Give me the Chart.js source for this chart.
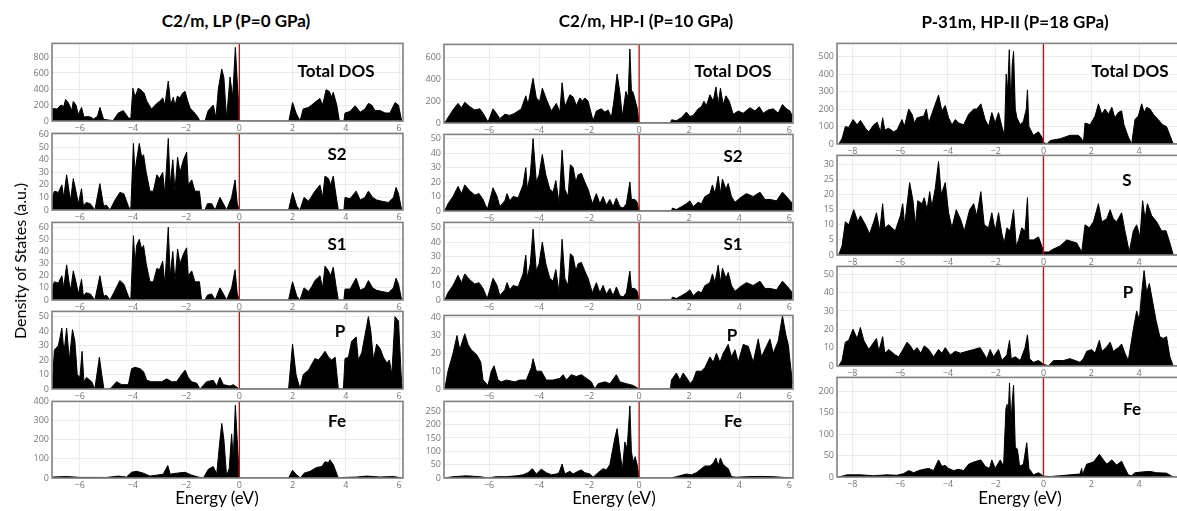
<!DOCTYPE html>
<html><head><meta charset="utf-8">
<script src="https://cdn.jsdelivr.net/npm/chart.js@4.4.1/dist/chart.umd.min.js"></script>
<style>
html,body{margin:0;padding:0;background:#fff}
body{width:1177px;height:511px;overflow:hidden;position:relative;font-family:Lato,"Open Sans",sans-serif}
.t{position:absolute;transform:translate(-50%,-50%);white-space:nowrap;color:#000;line-height:1}
</style></head><body>
<script>
// ---------- DATA: [energy (eV), DOS (a.u.)] ----------
const c1Total = [[-7.04,150],[-7.0,155],[-6.85,150],[-6.7,200],[-6.6,180],[-6.53,270],[-6.43,230],[-6.3,130],[-6.24,245],[-6.14,200],[-6.05,80],[-5.93,170],[-5.84,50],[-5.68,55],[-5.55,45],[-5.5,20],[-5.33,60],[-5.24,170],[-5.1,20],[-4.86,10],[-4.74,5],[-4.55,100],[-4.36,130],[-4.17,40],[-4.08,30],[-4.0,410],[-3.92,300],[-3.8,410],[-3.67,380],[-3.58,350],[-3.48,250],[-3.3,150],[-3.1,220],[-2.98,250],[-2.88,290],[-2.8,200],[-2.67,500],[-2.58,200],[-2.48,300],[-2.42,190],[-2.33,310],[-2.23,290],[-2.13,350],[-2.04,370],[-1.95,260],[-1.85,160],[-1.73,120],[-1.58,60],[-1.48,0],[-1.29,0],[-1.17,130],[-0.98,200],[-0.88,40],[-0.79,400],[-0.66,650],[-0.58,540],[-0.48,30],[-0.35,550],[-0.25,300],[-0.15,920],[-0.08,500],[-0.02,200],[0,0],[1.86,0],[2.0,230],[2.13,100],[2.28,0],[2.4,150],[2.6,170],[2.72,200],[2.9,250],[3.03,280],[3.13,200],[3.26,390],[3.38,370],[3.47,300],[3.53,360],[3.66,200],[3.76,0],[3.93,0],[3.97,100],[4.16,120],[4.35,190],[4.54,110],[4.72,150],[4.85,220],[4.97,200],[5.1,130],[5.29,130],[5.48,100],[5.66,100],[5.85,230],[5.98,200],[6.1,0]];
const c1S2 = [[-7.04,0],[-7.0,12],[-6.95,15],[-6.8,14],[-6.67,20],[-6.6,10],[-6.49,28],[-6.4,15],[-6.34,8],[-6.24,25],[-6.14,15],[-6.05,5],[-5.93,17],[-5.86,3],[-5.76,6],[-5.6,5],[-5.43,0],[-5.24,21],[-5.1,3],[-5.0,4],[-4.86,0],[-4.67,8],[-4.49,14],[-4.34,13],[-4.17,3],[-4.08,0],[-3.98,53],[-3.92,30],[-3.86,40],[-3.76,53],[-3.67,42],[-3.6,44],[-3.5,30],[-3.36,15],[-3.23,15],[-3.1,28],[-3.0,25],[-2.88,30],[-2.8,13],[-2.67,57],[-2.6,20],[-2.5,40],[-2.42,15],[-2.32,42],[-2.23,30],[-2.1,40],[-1.98,46],[-1.92,20],[-1.79,24],[-1.67,15],[-1.5,15],[-1.42,0],[-1.29,0],[-1.2,5],[-1.04,5],[-0.91,0],[-0.73,10],[-0.6,5],[-0.48,0],[-0.29,10],[-0.16,24],[-0.08,5],[0,0],[1.85,0],[2.0,14],[2.16,3],[2.28,0],[2.43,10],[2.6,7],[2.72,11],[2.84,15],[3.03,20],[3.13,10],[3.22,27],[3.35,25],[3.43,20],[3.53,27],[3.63,12],[3.72,0],[3.93,0],[3.97,10],[4.16,9],[4.39,15],[4.54,8],[4.72,10],[4.85,15],[5.01,10],[5.16,8],[5.35,7],[5.6,6],[5.79,10],[5.89,18],[5.98,13],[6.1,0]];
const c1S1 = [[-7.04,0],[-7.0,12],[-6.95,15],[-6.8,14],[-6.67,20],[-6.6,10],[-6.49,29],[-6.4,15],[-6.34,8],[-6.24,24],[-6.14,15],[-6.05,5],[-5.93,17],[-5.86,3],[-5.76,6],[-5.6,5],[-5.43,0],[-5.24,20],[-5.1,3],[-5.0,4],[-4.86,0],[-4.67,8],[-4.49,16],[-4.34,13],[-4.17,3],[-4.08,0],[-3.98,53],[-3.92,30],[-3.86,45],[-3.76,50],[-3.67,42],[-3.6,45],[-3.5,30],[-3.36,15],[-3.23,15],[-3.1,26],[-3.0,25],[-2.88,32],[-2.8,13],[-2.67,60],[-2.6,20],[-2.5,40],[-2.42,15],[-2.32,42],[-2.23,30],[-2.1,38],[-1.98,43],[-1.92,20],[-1.79,24],[-1.67,15],[-1.5,15],[-1.42,0],[-1.29,0],[-1.2,4],[-1.04,5],[-0.91,0],[-0.73,10],[-0.6,5],[-0.48,0],[-0.29,10],[-0.16,25],[-0.08,5],[0,0],[1.85,0],[2.0,15],[2.16,3],[2.28,0],[2.43,10],[2.6,7],[2.72,11],[2.84,16],[3.03,20],[3.13,10],[3.22,28],[3.35,24],[3.43,20],[3.53,27],[3.63,12],[3.72,0],[3.93,0],[3.97,9],[4.16,9],[4.39,18],[4.54,8],[4.72,10],[4.85,16],[5.01,10],[5.16,8],[5.35,7],[5.6,6],[5.79,10],[5.89,18],[5.98,13],[6.1,0]];
const c1P = [[-7.04,0],[-6.95,27],[-6.8,30],[-6.67,42],[-6.59,25],[-6.49,42],[-6.39,20],[-6.27,41],[-6.18,33],[-6.09,10],[-5.99,8],[-5.91,26],[-5.84,5],[-5.74,8],[-5.55,5],[-5.43,0],[-5.26,22],[-5.17,10],[-5.09,0],[-4.86,0],[-4.61,5],[-4.42,3],[-4.17,3],[-4.05,14],[-3.92,15],[-3.73,14],[-3.6,12],[-3.48,6],[-3.3,5],[-3.1,5],[-2.92,5],[-2.73,7],[-2.54,5],[-2.36,5],[-2.17,10],[-2.04,13],[-1.92,8],[-1.79,5],[-1.6,4],[-1.48,0],[-1.23,5],[-0.98,6],[-0.85,2],[-0.73,8],[-0.6,3],[-0.35,2],[-0.23,3],[0,0],[1.85,0],[2.0,31],[2.13,10],[2.28,0],[2.4,10],[2.6,13],[2.84,21],[2.97,20],[3.1,23],[3.22,26],[3.35,22],[3.47,20],[3.6,22],[3.72,0],[3.91,0],[3.97,21],[4.1,22],[4.22,33],[4.39,36],[4.47,20],[4.6,25],[4.72,37],[4.85,50],[4.94,40],[5.04,20],[5.16,31],[5.29,28],[5.41,22],[5.54,18],[5.64,20],[5.73,10],[5.85,50],[5.98,47],[6.08,10],[6.12,0]];
const c1Fe = [[-7.04,0],[-7.0,5],[-6.49,8],[-5.99,3],[-5.36,3],[-4.99,3],[-4.55,10],[-4.24,5],[-4.05,30],[-3.86,35],[-3.6,25],[-3.36,10],[-3.1,15],[-2.86,20],[-2.69,65],[-2.6,20],[-2.36,25],[-2.04,30],[-1.79,15],[-1.54,5],[-1.35,0],[-1.17,45],[-0.98,60],[-0.85,20],[-0.75,170],[-0.66,285],[-0.58,200],[-0.48,10],[-0.38,50],[-0.29,230],[-0.23,100],[-0.15,380],[-0.08,200],[0,0],[1.85,0],[2.0,40],[2.16,15],[2.3,0],[2.43,25],[2.66,35],[2.9,55],[3.1,60],[3.22,85],[3.35,80],[3.4,95],[3.53,70],[3.72,0],[3.97,3],[4.41,5],[4.79,10],[5.29,5],[5.79,8],[6.1,0]];

const c2Total = [[-7.77,0],[-7.64,50],[-7.44,120],[-7.24,180],[-7.1,140],[-6.97,190],[-6.77,150],[-6.57,120],[-6.37,130],[-6.24,90],[-6.04,10],[-5.84,130],[-5.71,90],[-5.57,40],[-5.37,80],[-5.17,70],[-4.97,90],[-4.71,130],[-4.53,250],[-4.44,170],[-4.31,330],[-4.24,410],[-4.11,230],[-3.97,200],[-3.87,320],[-3.71,220],[-3.51,110],[-3.31,180],[-3.17,100],[-3.08,370],[-2.97,150],[-2.77,260],[-2.64,240],[-2.51,160],[-2.37,230],[-2.27,200],[-2.17,230],[-2.04,200],[-1.84,20],[-1.71,110],[-1.51,130],[-1.37,100],[-1.24,120],[-1.11,50],[-1.01,200],[-0.88,450],[-0.77,280],[-0.67,60],[-0.53,290],[-0.44,230],[-0.37,680],[-0.31,300],[-0.24,280],[-0.16,210],[-0.08,140],[0,0],[1.25,0],[1.3,30],[1.49,20],[1.69,50],[1.89,100],[2.03,60],[2.16,70],[2.36,130],[2.49,150],[2.59,200],[2.69,160],[2.83,260],[2.96,200],[3.07,330],[3.16,170],[3.25,320],[3.36,170],[3.47,250],[3.6,200],[3.76,80],[3.96,110],[4.16,90],[4.43,140],[4.63,110],[4.8,150],[4.96,90],[5.16,120],[5.36,130],[5.56,90],[5.73,170],[5.89,130],[6.03,110],[6.13,60]];
const c2S2 = [[-7.77,0],[-7.64,5],[-7.44,10],[-7.24,17],[-7.1,12],[-6.97,18],[-6.77,14],[-6.57,11],[-6.4,12],[-6.24,8],[-6.07,1],[-5.84,16],[-5.68,10],[-5.57,3],[-5.37,7],[-5.28,12],[-5.17,7],[-5.04,10],[-4.84,9],[-4.64,18],[-4.53,30],[-4.47,15],[-4.35,25],[-4.24,50],[-4.11,20],[-4.0,25],[-3.87,39],[-3.73,25],[-3.57,15],[-3.44,13],[-3.33,21],[-3.2,5],[-3.08,42],[-2.97,15],[-2.84,10],[-2.75,32],[-2.64,30],[-2.53,20],[-2.44,25],[-2.31,26],[-2.17,20],[-2.04,15],[-1.87,5],[-1.71,12],[-1.57,5],[-1.44,10],[-1.31,4],[-1.17,8],[-1.04,3],[-0.91,9],[-0.77,3],[-0.64,2],[-0.51,5],[-0.37,20],[-0.31,8],[-0.17,8],[-0.08,6],[0,0],[1.29,0],[1.33,2],[1.49,1],[1.69,3],[1.89,5],[2.03,7],[2.16,3],[2.36,6],[2.49,5],[2.63,10],[2.83,12],[2.93,18],[3.03,12],[3.16,24],[3.25,12],[3.33,22],[3.47,15],[3.56,19],[3.69,10],[3.83,6],[4.03,9],[4.29,12],[4.56,10],[4.83,13],[5.03,8],[5.23,8],[5.49,7],[5.73,13],[5.89,10],[6.13,5]];
const c2S1 = [[-7.77,0],[-7.64,5],[-7.44,10],[-7.24,17],[-7.1,12],[-6.97,18],[-6.77,14],[-6.57,11],[-6.4,12],[-6.24,8],[-6.07,1],[-5.84,15],[-5.68,10],[-5.57,3],[-5.37,7],[-5.28,12],[-5.17,7],[-5.04,10],[-4.84,9],[-4.64,18],[-4.53,31],[-4.47,15],[-4.35,25],[-4.24,49],[-4.11,20],[-4.0,25],[-3.87,40],[-3.73,25],[-3.57,15],[-3.44,13],[-3.33,21],[-3.2,5],[-3.08,42],[-2.97,15],[-2.84,10],[-2.75,32],[-2.64,30],[-2.53,20],[-2.44,25],[-2.31,26],[-2.17,20],[-2.04,15],[-1.87,5],[-1.71,12],[-1.57,5],[-1.44,10],[-1.31,4],[-1.17,8],[-1.04,3],[-0.91,9],[-0.77,3],[-0.64,2],[-0.51,5],[-0.37,20],[-0.31,8],[-0.17,8],[-0.08,6],[0,0],[1.29,0],[1.33,2],[1.49,1],[1.69,3],[1.89,5],[2.03,7],[2.16,3],[2.36,6],[2.49,5],[2.63,10],[2.83,12],[2.93,18],[3.03,12],[3.16,24],[3.25,12],[3.33,22],[3.47,15],[3.56,19],[3.69,10],[3.83,6],[4.03,9],[4.29,12],[4.56,10],[4.83,13],[5.03,8],[5.23,8],[5.49,7],[5.73,13],[5.89,10],[6.13,5]];
const c2P = [[-7.77,0],[-7.64,10],[-7.44,20],[-7.28,30],[-7.17,22],[-6.97,31],[-6.84,25],[-6.71,22],[-6.48,19],[-6.33,15],[-6.24,5],[-6.04,2],[-5.91,10],[-5.8,13],[-5.64,5],[-5.51,4],[-5.31,5],[-4.97,4],[-4.77,5],[-4.51,5],[-4.31,12],[-4.24,17],[-4.11,10],[-3.91,10],[-3.71,5],[-3.44,5],[-3.17,6],[-3.04,8],[-2.91,5],[-2.71,8],[-2.51,7],[-2.31,8],[-2.11,6],[-1.91,4],[-1.77,0],[-1.64,3],[-1.37,4],[-1.17,3],[-0.91,8],[-0.77,4],[-0.51,3],[-0.24,2],[0,0],[1.25,0],[1.29,5],[1.49,9],[1.63,5],[1.76,9],[1.96,5],[2.03,3],[2.16,5],[2.29,10],[2.49,10],[2.63,12],[2.83,18],[2.96,15],[3.09,20],[3.23,15],[3.36,20],[3.56,25],[3.69,18],[3.83,22],[3.96,15],[4.16,25],[4.36,24],[4.56,15],[4.76,28],[4.89,18],[5.09,24],[5.23,28],[5.36,20],[5.56,27],[5.73,41],[5.87,30],[5.96,25],[6.13,3]];
const c2Fe = [[-7.77,0],[-7.44,5],[-6.91,8],[-6.37,5],[-6.04,0],[-5.71,5],[-5.31,5],[-4.91,8],[-4.64,12],[-4.44,20],[-4.27,35],[-4.11,15],[-3.91,33],[-3.71,20],[-3.51,12],[-3.31,15],[-3.2,20],[-3.08,52],[-2.97,15],[-2.77,25],[-2.64,15],[-2.44,25],[-2.31,30],[-2.17,20],[-1.97,15],[-1.84,3],[-1.64,20],[-1.44,35],[-1.31,30],[-1.17,50],[-1.07,100],[-0.97,150],[-0.88,185],[-0.77,100],[-0.67,30],[-0.57,135],[-0.48,110],[-0.37,270],[-0.31,100],[-0.24,60],[-0.16,80],[-0.08,50],[0,0],[1.25,0],[1.49,5],[1.69,10],[1.89,15],[2.09,12],[2.29,20],[2.49,35],[2.63,45],[2.83,45],[2.96,55],[3.07,75],[3.16,45],[3.25,75],[3.36,50],[3.56,35],[3.69,5],[3.89,3],[4.29,5],[4.83,6],[5.36,5],[6.13,0]];

const c3Total = [[-8.57,0],[-8.43,30],[-8.29,100],[-8.15,95],[-7.97,140],[-7.8,110],[-7.66,135],[-7.45,90],[-7.31,70],[-7.1,110],[-6.96,125],[-6.82,70],[-6.73,150],[-6.64,80],[-6.48,90],[-6.27,70],[-6.13,80],[-5.92,140],[-5.82,100],[-5.64,200],[-5.5,170],[-5.4,120],[-5.29,150],[-5.01,160],[-4.9,200],[-4.8,120],[-4.6,200],[-4.39,280],[-4.25,190],[-4.11,220],[-3.97,150],[-3.83,110],[-3.69,140],[-3.55,120],[-3.34,110],[-3.13,170],[-2.92,200],[-2.79,200],[-2.62,230],[-2.44,140],[-2.3,100],[-2.16,180],[-2.02,120],[-1.88,180],[-1.74,100],[-1.63,50],[-1.56,400],[-1.5,300],[-1.43,540],[-1.36,200],[-1.31,450],[-1.25,530],[-1.18,200],[-1.11,150],[-0.97,110],[-0.84,130],[-0.72,200],[-0.67,310],[-0.61,100],[-0.42,50],[-0.21,70],[-0.07,40],[0,10],[0.14,0],[0.28,20],[0.7,30],[1.11,50],[1.46,50],[1.6,30],[1.67,0],[1.74,120],[1.95,110],[2.16,160],[2.3,230],[2.44,170],[2.58,200],[2.72,170],[2.86,210],[2.99,150],[3.13,180],[3.27,190],[3.37,110],[3.55,40],[3.69,0],[3.83,140],[3.97,160],[4.11,230],[4.21,180],[4.32,210],[4.46,200],[4.6,170],[4.8,140],[4.99,110],[5.15,100],[5.29,50],[5.43,0],[5.63,0]];
const c3S = [[-8.57,0],[-8.43,3],[-8.29,11],[-8.15,10],[-7.94,15],[-7.77,11],[-7.66,13],[-7.45,10],[-7.28,7],[-7.1,11],[-6.99,14],[-6.85,8],[-6.73,17],[-6.64,9],[-6.48,10],[-6.2,8],[-5.99,13],[-5.89,17],[-5.81,10],[-5.6,24],[-5.46,18],[-5.36,10],[-5.26,18],[-5.08,17],[-4.99,19],[-4.87,15],[-4.76,21],[-4.67,16],[-4.53,22],[-4.39,31],[-4.28,20],[-4.11,24],[-3.97,14],[-3.83,9],[-3.65,15],[-3.48,12],[-3.31,8],[-3.09,15],[-2.92,17],[-2.79,13],[-2.62,21],[-2.48,10],[-2.3,9],[-2.16,14],[-2.02,8],[-1.88,14],[-1.74,7],[-1.64,4],[-1.53,9],[-1.39,8],[-1.25,15],[-1.14,3],[-1.04,5],[-0.91,9],[-0.77,8],[-0.67,19],[-0.61,5],[-0.42,5],[-0.21,6],[-0.07,3],[0,1],[0.21,1],[0.42,2],[0.7,3],[0.97,5],[1.39,4],[1.6,1],[1.74,10],[1.92,9],[2.09,11],[2.3,17],[2.44,11],[2.65,12],[2.79,15],[2.92,12],[3.06,11],[3.27,14],[3.41,8],[3.59,1],[3.76,8],[3.9,10],[4.04,6],[4.15,18],[4.25,12],[4.35,17],[4.53,13],[4.74,11],[4.94,8],[5.13,8],[5.29,4],[5.43,0],[5.63,0]];
const c3P = [[-8.57,0],[-8.43,3],[-8.29,13],[-8.15,14],[-7.97,20],[-7.8,15],[-7.66,21],[-7.52,14],[-7.31,9],[-6.99,15],[-6.89,8],[-6.73,16],[-6.64,7],[-6.48,9],[-6.2,6],[-6.06,5],[-5.92,8],[-5.71,13],[-5.57,11],[-5.43,8],[-5.29,10],[-5.13,7],[-4.99,11],[-4.8,9],[-4.6,5],[-4.39,9],[-4.25,7],[-4.11,10],[-3.9,6],[-3.69,8],[-3.48,7],[-3.2,8],[-2.92,9],[-2.65,10],[-2.51,7],[-2.37,4],[-2.23,9],[-2.09,5],[-1.88,9],[-1.74,3],[-1.53,6],[-1.42,14],[-1.35,4],[-1.18,5],[-0.97,3],[-0.77,10],[-0.67,17],[-0.58,4],[-0.42,2],[-0.21,3],[0,1],[0.21,0],[0.42,3],[0.84,3],[1.11,4],[1.53,2],[1.67,4],[1.81,8],[2.02,9],[2.16,7],[2.34,14],[2.44,8],[2.62,10],[2.79,13],[2.92,8],[3.13,10],[3.27,12],[3.41,7],[3.55,3],[3.76,20],[3.9,30],[4.01,25],[4.11,40],[4.21,52],[4.32,40],[4.43,45],[4.57,35],[4.71,25],[4.87,16],[5.01,15],[5.15,16],[5.29,5],[5.43,0],[5.63,0]];
const c3Fe = [[-8.57,0],[-8.22,5],[-7.66,5],[-7.1,3],[-6.55,5],[-6.13,4],[-5.85,8],[-5.64,15],[-5.43,10],[-5.22,15],[-5.01,18],[-4.8,20],[-4.6,15],[-4.39,40],[-4.25,25],[-4.11,27],[-3.97,20],[-3.76,15],[-3.55,18],[-3.34,15],[-3.13,30],[-2.92,35],[-2.62,40],[-2.44,25],[-2.26,20],[-2.16,40],[-2.02,20],[-1.81,40],[-1.67,25],[-1.57,160],[-1.52,170],[-1.48,140],[-1.42,220],[-1.36,120],[-1.31,175],[-1.25,215],[-1.18,70],[-1.09,65],[-1.0,25],[-0.84,30],[-0.7,80],[-0.61,20],[-0.42,5],[-0.21,10],[-0.07,5],[0,2],[0.28,1],[0.7,3],[1.11,5],[1.53,7],[1.6,20],[1.63,5],[1.81,30],[2.09,35],[2.34,53],[2.51,40],[2.65,30],[2.86,40],[3.06,28],[3.27,37],[3.37,25],[3.55,5],[3.69,3],[3.83,10],[4.18,12],[4.46,13],[4.74,10],[5.15,9],[5.43,0],[5.63,0]];

// ---------- TEXT ----------
const columnTitles = ['C2/m, LP (P=0 GPa)', 'C2/m, HP-I (P=10 GPa)', 'P-31m, HP-II (P=18 GPa)'];
const xAxisTitle = 'Energy (eV)';
const yAxisTitle = 'Density of States (a.u.)';

// ---------- LAYOUT ----------
const cols = [
  {left:52, right:403, xmin:-7.04, xmax:6.15, title:[236,20], xlab:[217,497]},
  {left:444, right:793, xmin:-7.8, xmax:6.15, title:[646,20], xlab:[614,497]},
  {left:837, right:1178, xmin:-8.64, xmax:5.63, title:[1015,21], xlab:[1020,497]}
];
const panels = [
  {col:0, top:43, bottom:121, data:c1Total, ymax:970, step:200, label:'Total DOS', lp:[336,70]},
  {col:0, top:133, bottom:210, data:c1S2, ymax:61, step:10, label:'S2', lp:[337,153]},
  {col:0, top:222, bottom:300, data:c1S1, ymax:64, step:10, label:'S1', lp:[337,243]},
  {col:0, top:311, bottom:389, data:c1P, ymax:53.6, step:10, label:'P', lp:[340,330]},
  {col:0, top:401, bottom:478, data:c1Fe, ymax:400, step:100, label:'Fe', lp:[337,420]},
  {col:1, top:44, bottom:122.7, data:c2Total, ymax:722, step:200, label:'Total DOS', lp:[733,70]},
  {col:1, top:134, bottom:211, data:c2S2, ymax:52.9, step:10, label:'S2', lp:[733,155]},
  {col:1, top:222, bottom:300, data:c2S1, ymax:53.6, step:10, label:'S1', lp:[733,243]},
  {col:1, top:315, bottom:389, data:c2P, ymax:41.3, step:10, label:'P', lp:[732,334]},
  {col:1, top:401, bottom:478, data:c2Fe, ymax:287, step:50, label:'Fe', lp:[733,420]},
  {col:2, top:43, bottom:144, data:c3Total, ymax:576, step:100, label:'Total DOS', lp:[1130,70]},
  {col:2, top:155, bottom:255, data:c3S, ymax:33, step:5, label:'S', lp:[1127,179]},
  {col:2, top:266, bottom:366, data:c3P, ymax:54.3, step:10, label:'P', lp:[1128,291]},
  {col:2, top:377, bottom:477, data:c3Fe, ymax:233, step:50, label:'Fe', lp:[1132,408]}
];

const Y_W = 40, X_H = 14, PAD_T = 8, PAD_R = 6;

const framePlugin = {
  id:'frame',
  afterDatasetsDraw(chart){
    const {ctx, chartArea:a, scales} = chart;
    const x0 = scales.x.getPixelForValue(0);
    ctx.save();
    ctx.strokeStyle = '#e00000'; ctx.lineWidth = 1.3;
    ctx.beginPath(); ctx.moveTo(x0, a.top); ctx.lineTo(x0, a.bottom); ctx.stroke();
    ctx.strokeStyle = '#808080'; ctx.lineWidth = 1.6;
    ctx.strokeRect(a.left, a.top, a.right - a.left, a.bottom - a.top);
    ctx.restore();
  }
};

const tickFont = {family:'"Open Sans", sans-serif', size:9};
function fmt(v){ return v < 0 ? '\u2212' + Math.abs(v) : String(v); }
function stepTicks(step){
  return s => {
    const out = [];
    for (let k = Math.ceil(s.min / step - 1e-9); k * step <= s.max + 1e-9; k++) {
      out.push({value: +(k * step).toFixed(6)});
    }
    s.ticks = out;
  };
}

function addText(txt, x, y, css){
  const d = document.createElement('div');
  d.className = 't'; d.textContent = txt;
  d.style.left = x + 'px'; d.style.top = y + 'px';
  d.style.cssText += css;
  document.body.appendChild(d);
}

panels.forEach(p => {
  const c = cols[p.col];
  const w = Math.round(Y_W + (c.right - c.left) + PAD_R);
  const h = Math.round(PAD_T + (p.bottom - p.top) + X_H);
  const cv = document.createElement('canvas');
  cv.width = w; cv.height = h;
  cv.style.cssText = `position:absolute;left:${c.left - Y_W}px;top:${p.top - PAD_T}px;width:${w}px;height:${h}px`;
  document.body.appendChild(cv);
  new Chart(cv, {
    type:'line',
    data:{datasets:[{
      data:p.data.map(d => ({x:d[0], y:d[1]})),
      fill:'origin', backgroundColor:'#000', borderColor:'#000', borderWidth:1,
      pointRadius:0, tension:0
    }]},
    options:{
      responsive:false, animation:false, events:[], parsing:false,
      layout:{padding:{top:PAD_T, right:PAD_R, left:0, bottom:0}},
      plugins:{legend:{display:false}, tooltip:{enabled:false}},
      scales:{
        x:{type:'linear', min:c.xmin, max:c.xmax,
           afterFit:s => { s.height = X_H; },
           afterBuildTicks:stepTicks(2),
           border:{display:false},
           grid:{color:'#ebebeb', drawTicks:false},
           ticks:{padding:2, maxRotation:0, autoSkip:false,
                  color:'#777', font:tickFont, callback:fmt}},
        y:{type:'linear', min:0, max:p.ymax,
           afterFit:s => { s.width = Y_W; },
           afterBuildTicks:stepTicks(p.step),
           border:{display:false},
           grid:{color:'#ebebeb', drawTicks:false},
           ticks:{padding:3, autoSkip:false, color:'#777', font:tickFont, callback:fmt}}
      }
    },
    plugins:[framePlugin]
  });
  addText(p.label, p.lp[0], p.lp[1], 'font-weight:700;font-size:17px;');
});

cols.forEach((c, i) => {
  addText(columnTitles[i], c.title[0], c.title[1], 'font-weight:700;font-size:17px;');
  addText(xAxisTitle, c.xlab[0], c.xlab[1], 'font-size:17px;');
});
addText(yAxisTitle, 20, 261, 'font-size:16px;transform:translate(-50%,-50%) rotate(-90deg);');
</script>
</body></html>
